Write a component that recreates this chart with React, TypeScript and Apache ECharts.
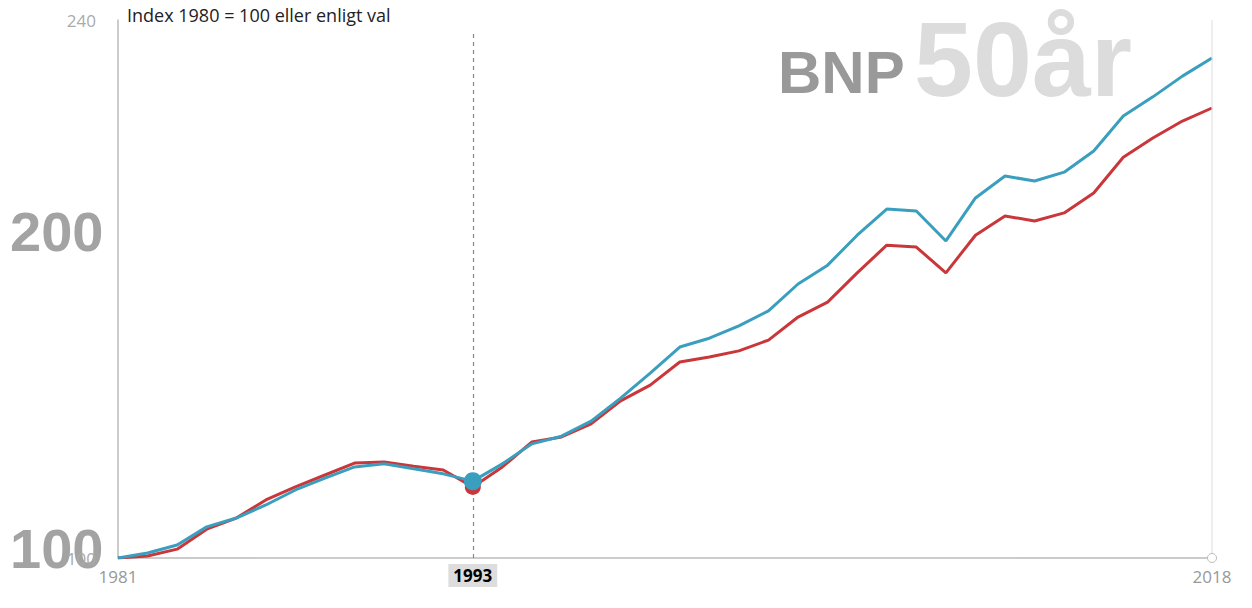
import React, { useEffect, useRef } from "react";
import * as echarts from "echarts";

const years = Array.from({ length: 38 }, (_, i) => 1981 + i);
const blue = [100, 101.3, 103.4, 108.1, 110.4, 113.8, 117.7, 120.8, 123.7, 124.5, 123.2, 121.9, 120.0, 124.5, 129.7, 131.7, 135.6, 141.6, 148.1, 154.9, 157.2, 160.4, 164.3, 171.3, 176.2, 184.0, 190.8, 190.3, 182.5, 193.7, 199.4, 198.1, 200.4, 205.9, 215.0, 220.0, 225.4, 230.1];
const red = [100, 100.5, 102.3, 107.5, 110.4, 115.1, 118.5, 121.6, 124.7, 125.0, 123.9, 122.9, 118.5, 123.7, 130.2, 131.5, 134.9, 140.9, 145.0, 151.0, 152.3, 153.9, 156.7, 162.7, 166.6, 174.2, 181.4, 180.9, 174.2, 184.0, 189.0, 187.7, 189.8, 195.0, 204.3, 209.3, 213.7, 217.1];
const yTicks = [100, 240];
const xTicks = [1981, 2018];
const focusYear = 1993;

export default function App() {
  const ref = useRef<HTMLDivElement>(null);
  useEffect(() => {
    const chart = echarts.init(ref.current!, null, { renderer: "svg" });
    const fi = years.indexOf(focusYear);
    chart.setOption({
      animation: false,
      grid: { left: 118, right: 40, top: 20, bottom: 50 },
      xAxis: {
        type: "value", min: 1981, max: 2018,
        splitLine: { show: false },
        axisTick: { show: false },
        axisLine: { lineStyle: { color: "#bbb", width: 1.5 } },
        axisLabel: {
          customValues: xTicks, color: "#999", fontSize: 17, fontFamily: "Open Sans", margin: 10,
          formatter: (v: number) => String(v),
        },
      },
      yAxis: {
        type: "value", min: 100, max: 240,
        splitLine: { show: false },
        axisTick: { show: false },
        axisLine: { show: true, lineStyle: { color: "#bbb", width: 1.5 } },
        axisLabel: { customValues: yTicks, color: "#aaa", fontSize: 17, fontFamily: "Open Sans", margin: 22 },
      },
      series: [
        {
          type: "line", data: years.map((y, i) => [y, red[i]]), symbol: "none",
          lineStyle: { color: "#c9373a", width: 3 },
          markPoint: {
            symbol: "circle", symbolSize: 16, itemStyle: { color: "#c9373a" }, label: { show: false },
            data: [{ coord: [focusYear, red[fi]] }],
          },
        },
        {
          type: "line", data: years.map((y, i) => [y, blue[i]]), symbol: "none",
          lineStyle: { color: "#3a9fbf", width: 3 },
          markPoint: {
            symbol: "circle", symbolSize: 18, itemStyle: { color: "#3a9fbf" }, label: { show: false },
            data: [{ coord: [focusYear, blue[fi]] }],
          },
          markLine: {
            symbol: "none", silent: true,
            lineStyle: { color: "#888", type: [4, 4], width: 1.2 },
            label: {
              show: true, position: "start", formatter: String(focusYear), color: "#000",
              fontWeight: "bold", fontSize: 17, fontFamily: "Open Sans", backgroundColor: "#ddd",
              padding: [3, 5], distance: 6,
            },
            data: [[{ coord: [focusYear, 100] }, { coord: [focusYear, 237] }]],
          },
        },
        {
          type: "line", data: [[2018, 240], [2018, 100]], symbol: "none", silent: true,
          lineStyle: { color: "#ddd", width: 1 },
          markPoint: {
            symbol: "circle", symbolSize: 9, itemStyle: { color: "#fff", borderColor: "#bbb", borderWidth: 1 },
            label: { show: false }, data: [{ coord: [2018, 100] }],
          },
        },
      ],
      graphic: [
        { type: "text", left: 127, top: 6, style: { text: "Index 1980 = 100 eller enligt val", fontSize: 18, fill: "#222", fontFamily: "Open Sans" } },
        { type: "text", left: 778, top: 42, style: { text: "BNP", fontSize: 60, fontWeight: "bold", fill: "#999", fontFamily: "Liberation Sans" } },
        { type: "text", left: 914, top: 6, style: { text: "50år", fontSize: 106, fontWeight: "bold", fill: "#dcdcdc", fontFamily: "Liberation Sans" } },
        { type: "text", left: 10, top: 203, style: { text: "200", fontSize: 56, fontWeight: "bold", fill: "#999", fontFamily: "Liberation Sans", opacity: 0.9 } },
        { type: "text", left: 10, top: 520, style: { text: "100", fontSize: 56, fontWeight: "bold", fill: "#999", fontFamily: "Liberation Sans", opacity: 0.9 } },
      ],
    });
    return () => chart.dispose();
  }, []);
  return <div ref={ref} style={{ position: "fixed", left: 0, top: 0, width: 1252, height: 608, background: "#fff" }} />;
}
